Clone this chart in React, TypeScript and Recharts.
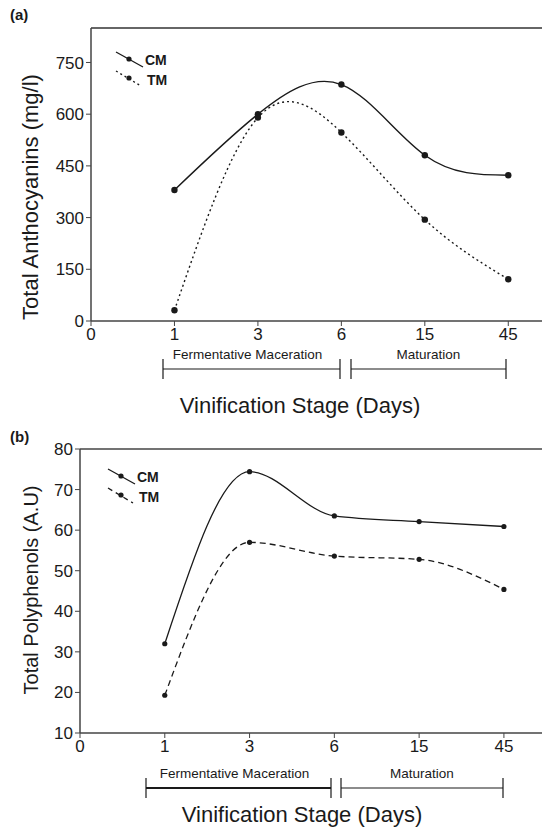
import React from 'react'
import { Legend, Line, LineChart, ReferenceLine, XAxis, YAxis } from 'recharts'

// x positions: 0 is the origin, then the sampled days
const tickLabels = ['0', '1', '3', '6', '15', '45']
const dayIndex = [1, 2, 3, 4, 5]

// (a) total anthocyanins, mg/l
const anthoCM = [380, 600, 686, 481, 423]
const anthoTM = [31, 590, 547, 294, 121]
const anthoTicks = [0, 150, 300, 450, 600, 750]

// (b) total polyphenols, A.U
const polyCM = [32, 74.4, 63.5, 62.1, 60.9]
const polyTM = [19.3, 57, 53.6, 52.8, 45.4]
const polyTicks = [10, 20, 30, 40, 50, 60, 70, 80]

const anthoData = dayIndex.map((x, i) => ({ x, cm: anthoCM[i], tm: anthoTM[i] }))
const polyData = dayIndex.map((x, i) => ({ x, cm: polyCM[i], tm: polyTM[i] }))

const FONT = '"Liberation Sans", Arial, Helvetica, sans-serif'
const INK = '#1a1a1a'
const AXIS = '#444'

const tickStyle = { fill: INK, fontSize: 17, fontFamily: FONT }

const LegendBox = ({ tmDash }: { tmDash: string }) => (
  <svg width={60} height={44} style={{ display: 'block' }}>
    <line x1={2} y1={2} x2={29} y2={17} stroke={INK} strokeWidth={1.3} />
    <circle cx={15} cy={9} r={2.6} fill={INK} />
    <text x={31} y={15} fontSize={14} fontWeight="bold" fontFamily={FONT} fill={INK}>CM</text>
    <line x1={2} y1={21} x2={27} y2={36} stroke={INK} strokeWidth={1.3} strokeDasharray={tmDash} />
    <circle cx={15} cy={28} r={2.6} fill={INK} />
    <text x={33} y={35} fontSize={14} fontWeight="bold" fontFamily={FONT} fill={INK}>TM</text>
  </svg>
)

type StageProps = { y: number; x0: number; x1: number; x2: number; x3: number; titleY: number; titleX: number; bold?: boolean }

// stage brackets and x axis title under each chart
const Stages = ({ y, x0, x1, x2, x3, titleY, titleX, bold }: StageProps) => {
  const sw = bold ? 2 : 1.2
  return (
    <g fontFamily={FONT} fill={INK}>
      <text x={(x0 + x1) / 2 - 4} y={y - 10} fontSize={13.5} textAnchor="middle">Fermentative Maceration</text>
      <text x={(x2 + x3) / 2} y={y - 10} fontSize={13.5} textAnchor="middle">Maturation</text>
      <line x1={x0} y1={y} x2={x1} y2={y} stroke={INK} strokeWidth={sw} />
      <line x1={x0} y1={y - 10} x2={x0} y2={y + 10} stroke={INK} strokeWidth={1.2} />
      <line x1={x1} y1={y - 10} x2={x1} y2={y + 10} stroke={INK} strokeWidth={1.2} />
      <line x1={x2} y1={y} x2={x3} y2={y} stroke={INK} strokeWidth={1.2} />
      <line x1={x2} y1={y - 10} x2={x2} y2={y + 10} stroke={INK} strokeWidth={1.2} />
      <line x1={x3} y1={y - 10} x2={x3} y2={y + 10} stroke={INK} strokeWidth={1.2} />
      <text x={titleX} y={titleY} fontSize={22} textAnchor="middle">Vinification Stage (Days)</text>
    </g>
  )
}

const App = () => {
  return (
    <div style={{ position: 'relative', width: 550, height: 827, margin: '-8px 0 0 -8px', overflow: 'hidden', background: '#fff' }}>
      {/* chart (a) */}
      <div style={{ position: 'absolute', left: 0, top: 0 }}>
        <LineChart width={550} height={420} data={anthoData} margin={{ top: 28, right: 0, left: 31, bottom: 69 }}>
          <XAxis
            dataKey="x"
            type="number"
            domain={[0, 5.5]}
            ticks={[0, 1, 2, 3, 4, 5]}
            tickFormatter={(v: number) => tickLabels[v]}
            height={30}
            tick={tickStyle}
            tickSize={5}
            axisLine={{ stroke: AXIS, strokeWidth: 1.5 }}
            tickLine={{ stroke: AXIS }}
            allowDataOverflow
          />
          <YAxis
            type="number"
            domain={[0, 850]}
            ticks={anthoTicks}
            width={60}
            tick={tickStyle}
            tickSize={5}
            axisLine={{ stroke: AXIS, strokeWidth: 1.5 }}
            tickLine={{ stroke: AXIS }}
            allowDataOverflow
          />
          <ReferenceLine y={850} stroke="#666" strokeWidth={2} />
          <Legend
            layout="horizontal"
            verticalAlign="middle"
            align="center"
            wrapperStyle={{ position: 'absolute', left: 114, top: 50, width: 60, height: 44 }}
            content={() => <LegendBox tmDash="2 3" />}
          />
          <Line dataKey="cm" type="natural" stroke={INK} strokeWidth={1.4} dot={{ r: 3.2, fill: INK, stroke: 'none' }} isAnimationActive={false} />
          <Line dataKey="tm" type="natural" stroke={INK} strokeWidth={1.4} strokeDasharray="2 3" dot={{ r: 3.2, fill: INK, stroke: 'none' }} isAnimationActive={false} />
        </LineChart>
        <svg width={550} height={420} style={{ position: 'absolute', left: 0, top: 0, pointerEvents: 'none' }}>
          <text x={10} y={20} fontSize={15} fontWeight="bold" fontFamily={FONT} fill={INK}>(a)</text>
          <text transform="translate(38,197) rotate(-90)" fontSize={22} textAnchor="middle" fontFamily={FONT} fill={INK}>Total Anthocyanins (mg/l)</text>
          <Stages y={369} x0={163} x1={340} x2={351} x3={506} titleX={300} titleY={413} />
        </svg>
      </div>

      {/* chart (b) */}
      <div style={{ position: 'absolute', left: 0, top: 420 }}>
        <LineChart width={550} height={407} data={polyData} margin={{ top: 29, right: 2, left: 20, bottom: 64 }}>
          <XAxis
            dataKey="x"
            type="number"
            domain={[0, 5.52]}
            ticks={[0, 1, 2, 3, 4, 5]}
            tickFormatter={(v: number) => tickLabels[v]}
            height={30}
            tick={tickStyle}
            tickSize={5}
            axisLine={{ stroke: AXIS, strokeWidth: 1.5 }}
            tickLine={{ stroke: AXIS }}
            allowDataOverflow
          />
          <YAxis
            type="number"
            domain={[10, 80]}
            ticks={polyTicks}
            width={60}
            tick={tickStyle}
            tickSize={5}
            axisLine={{ stroke: AXIS, strokeWidth: 1.5 }}
            tickLine={{ stroke: AXIS }}
            allowDataOverflow
          />
          <ReferenceLine y={80} stroke={AXIS} strokeWidth={1.5} />
          <ReferenceLine x={5.52} stroke={AXIS} strokeWidth={1.5} />
          <Legend
            layout="horizontal"
            verticalAlign="middle"
            align="center"
            wrapperStyle={{ position: 'absolute', left: 106, top: 47, width: 60, height: 44 }}
            content={() => <LegendBox tmDash="5 4" />}
          />
          <Line dataKey="cm" type="monotone" stroke={INK} strokeWidth={1.3} dot={{ r: 2.6, fill: INK, stroke: 'none' }} isAnimationActive={false} />
          <Line dataKey="tm" type="monotone" stroke={INK} strokeWidth={1.3} strokeDasharray="6 4" dot={{ r: 2.6, fill: INK, stroke: 'none' }} isAnimationActive={false} />
        </LineChart>
        <svg width={550} height={407} style={{ position: 'absolute', left: 0, top: 0, pointerEvents: 'none' }}>
          <text x={10} y={22} fontSize={15} fontWeight="bold" fontFamily={FONT} fill={INK}>(b)</text>
          <text transform="translate(38,170) rotate(-90)" fontSize={20} textAnchor="middle" fontFamily={FONT} fill={INK}>Total Polyphenols (A.U)</text>
          <Stages y={368} x0={146} x1={331} x2={341} x3={503} titleX={302} titleY={402} bold />
        </svg>
      </div>
    </div>
  )
}

export default App
